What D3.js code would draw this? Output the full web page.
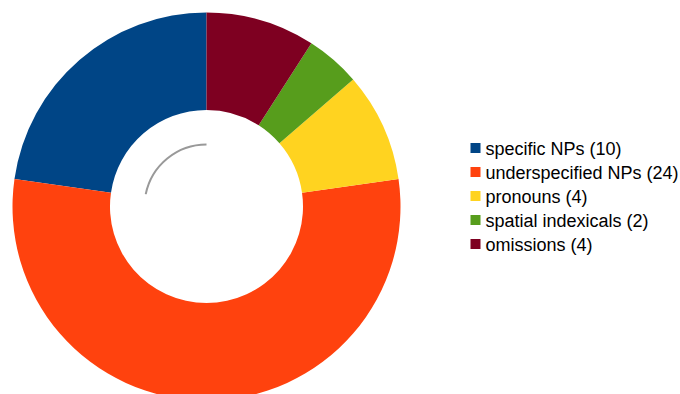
<!DOCTYPE html>
<html><head><meta charset="utf-8">
<script src="https://cdn.jsdelivr.net/npm/d3@7"></script>
<style>body{margin:0;background:#fff}svg{display:block}</style>
</head><body>
<script>
const categories = ["specific NPs", "underspecified NPs", "pronouns", "spatial indexicals", "omissions"];
const values = [10, 24, 4, 2, 4];
const colors = ["#004586", "#ff420e", "#ffd320", "#579d1c", "#7e0021"];

const W = 680, H = 394;
const cx = 206.5, cy = 206.5, R = 194, r = 96.5;
const svg = d3.select("body").append("svg").attr("width", W).attr("height", H);
const data = categories.map((c, i) => ({name: c, value: values[i], color: colors[i]}));

// counter-clockwise from top
const pie = d3.pie().value(d => d.value).sort(null).startAngle(0).endAngle(-2 * Math.PI);
const arc = d3.arc().innerRadius(r).outerRadius(R);
const g = svg.append("g").attr("transform", `translate(${cx},${cy})`);
g.selectAll("path.slice").data(pie(data)).join("path")
  .attr("class", "slice")
  .attr("d", arc)
  .attr("fill", d => d.data.color);

// grey arc indicator inside the hole
g.append("path")
  .attr("d", d3.arc()({innerRadius: 62, outerRadius: 62, startAngle: 0, endAngle: -1.37}))
  .attr("fill", "none").attr("stroke", "#999").attr("stroke-width", 2);

const legend = svg.append("g").attr("transform", "translate(470.5,143)");
const items = legend.selectAll("g").data(data).join("g")
  .attr("transform", (d, i) => `translate(0,${i * 24})`);
items.append("rect").attr("width", 10).attr("height", 10).attr("fill", d => d.color);
items.append("text").attr("x", 15).attr("y", 11.5)
  .attr("font-family", "Liberation Sans, Arial, sans-serif").attr("font-size", 18).attr("fill", "#000")
  .text(d => `${d.name} (${d.value})`);
</script>
</body></html>
